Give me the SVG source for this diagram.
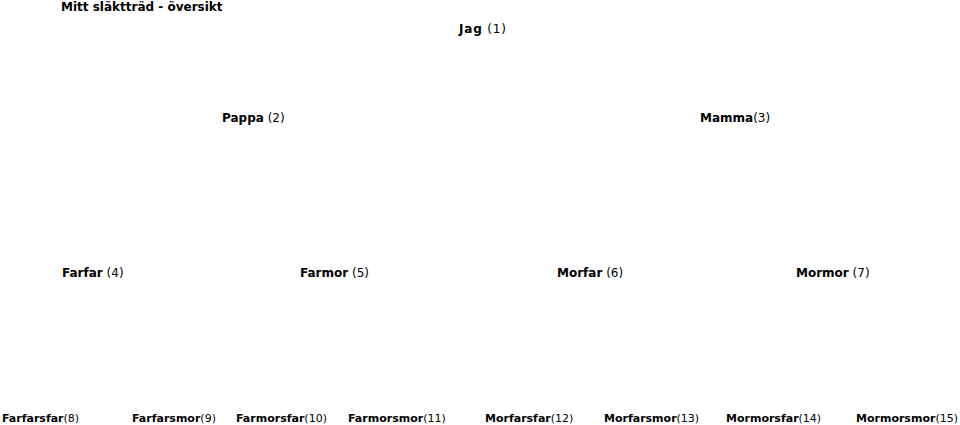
<svg xmlns="http://www.w3.org/2000/svg" width="960" height="425" viewBox="0 0 960 425">
<style>
text{font-family:"DejaVu Sans","Liberation Sans",sans-serif;font-size:12px;fill:#000}
.b{font-weight:bold}
.s{font-size:11px}
</style>
<rect width="960" height="425" fill="#fff"/>
<g id="title"><text x="61" y="11" class="b">Mitt släktträd - översikt</text></g>
<g id="n1"><text x="459" y="33" textLength="47"><tspan class="b">Jag</tspan> (1)</text></g>
<g id="n2"><text x="222" y="122"><tspan class="b">Pappa</tspan> (2)</text></g>
<g id="n3"><text x="700" y="122"><tspan class="b">Mamma</tspan>(3)</text></g>
<g id="n4"><text x="62" y="277"><tspan class="b">Farfar</tspan> (4)</text></g>
<g id="n5"><text x="300" y="277"><tspan class="b">Farmor</tspan> (5)</text></g>
<g id="n6"><text x="557" y="277"><tspan class="b">Morfar</tspan> (6)</text></g>
<g id="n7"><text x="796" y="277"><tspan class="b">Mormor</tspan> (7)</text></g>
<g id="n8"><text x="2" y="422" class="s"><tspan class="b">Farfarsfar</tspan>(8)</text></g>
<g id="n9"><text x="132" y="422" class="s"><tspan class="b">Farfarsmor</tspan>(9)</text></g>
<g id="n10"><text x="236" y="422" class="s"><tspan class="b">Farmorsfar</tspan>(10)</text></g>
<g id="n11"><text x="348" y="422" class="s"><tspan class="b">Farmorsmor</tspan>(11)</text></g>
<g id="n12"><text x="485" y="422" class="s"><tspan class="b">Morfarsfar</tspan>(12)</text></g>
<g id="n13"><text x="604" y="422" class="s"><tspan class="b">Morfarsmor</tspan>(13)</text></g>
<g id="n14"><text x="726" y="422" class="s"><tspan class="b">Mormorsfar</tspan>(14)</text></g>
<g id="n15"><text x="856" y="422" class="s"><tspan class="b">Mormorsmor</tspan>(15)</text></g>
<g id="connectors"></g>
</svg>
